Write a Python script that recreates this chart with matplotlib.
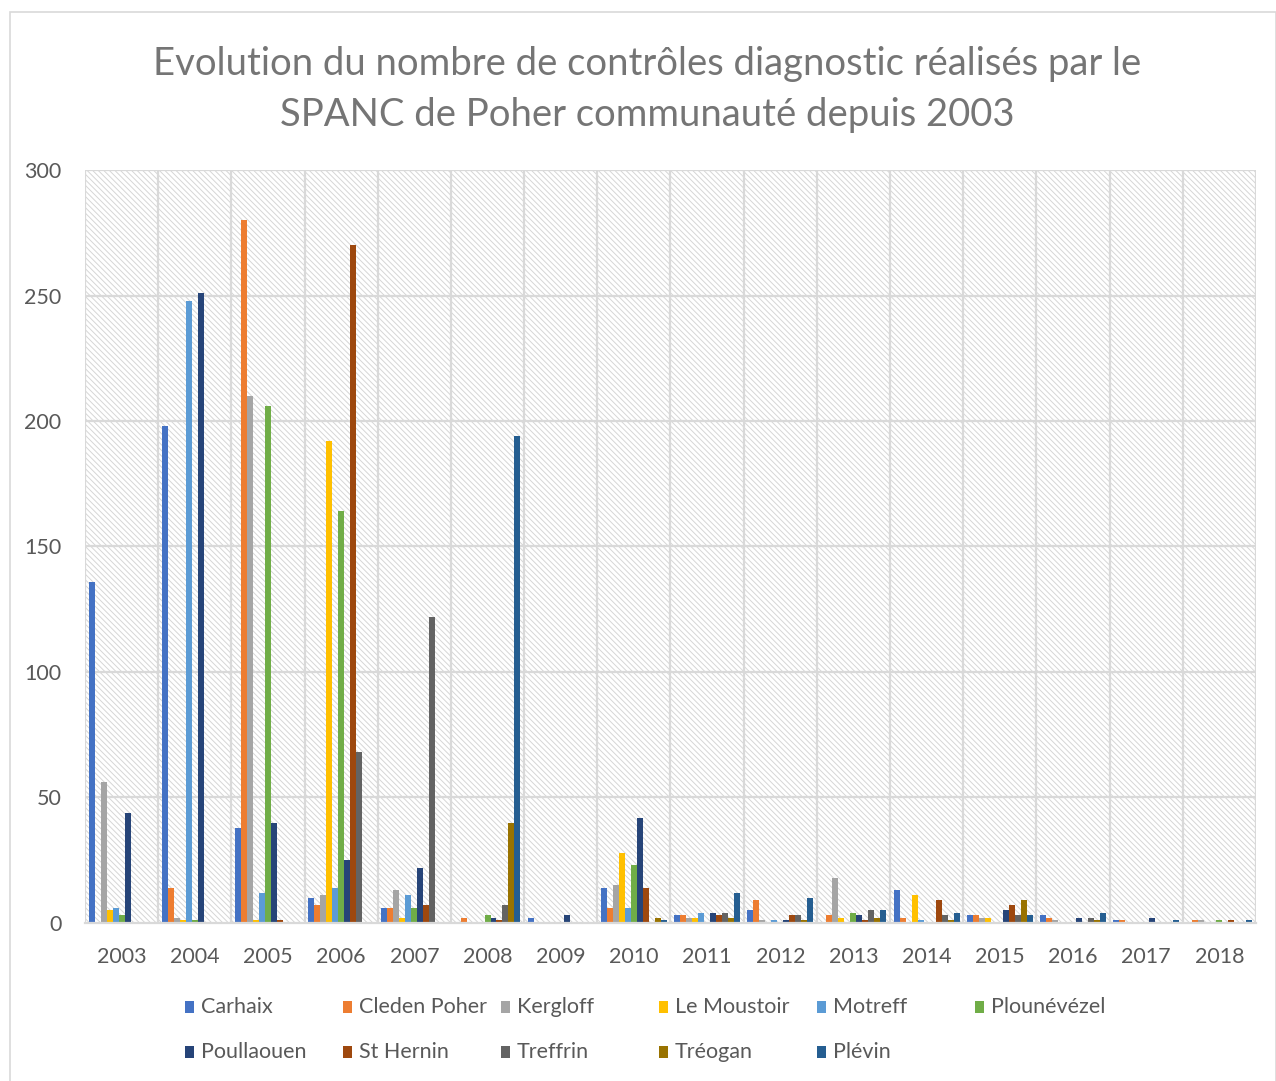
import numpy as np
import matplotlib
matplotlib.use("Agg")
import matplotlib.pyplot as plt
from matplotlib.patches import Rectangle

plt.rcParams['font.family'] = ['Lato', 'DejaVu Sans']
plt.rcParams['hatch.linewidth'] = 0.7

# === Data ===
years = ['2003', '2004', '2005', '2006', '2007', '2008', '2009', '2010',
         '2011', '2012', '2013', '2014', '2015', '2016', '2017', '2018']

carhaix     = [136, 198,  38,  10,   6,   0, 2, 14,  3,  5,  0, 13, 3, 3, 1, 0]
cleden      = [  0,  14, 280,   7,   6,   2, 0,  6,  3,  9,  3,  2, 3, 2, 1, 1]
kergloff    = [ 56,   2, 210,  11,  13,   0, 0, 15,  2,  1, 18,  0, 2, 1, 0, 1]
le_moustoir = [  5,   1,   1, 192,   2,   0, 0, 28,  2,  0,  2, 11, 2, 0, 0, 0]
motreff     = [  6, 248,  12,  14,  11,   0, 0,  6,  4,  1,  0,  1, 0, 0, 0, 0]
plounevezel = [  3,   1, 206, 164,   6,   3, 0, 23,  0,  0,  4,  0, 0, 0, 0, 1]
poullaouen  = [ 44, 251,  40,  25,  22,   2, 3, 42,  4,  1,  3,  0, 5, 2, 2, 0]
st_hernin   = [  0,   0,   1, 270,   7,   1, 0, 14,  3,  3,  1,  9, 7, 0, 0, 1]
treffrin    = [  0,   0,   0,  68, 122,   7, 0,  0,  4,  3,  5,  3, 3, 2, 0, 0]
treogan     = [  0,   0,   0,   0,   0,  40, 0,  2,  2,  1,  2,  1, 9, 1, 0, 0]
plevin      = [  0,   0,   0,   0,   0, 194, 0,  1, 12, 10,  5,  4, 3, 4, 1, 1]

names = ['Carhaix', 'Cleden Poher', 'Kergloff', 'Le Moustoir', 'Motreff', 'Plounévézel',
         'Poullaouen', 'St Hernin', 'Treffrin', 'Tréogan', 'Plévin']
series = [carhaix, cleden, kergloff, le_moustoir, motreff, plounevezel,
          poullaouen, st_hernin, treffrin, treogan, plevin]
colors = ['#4472C4', '#ED7D31', '#A5A5A5', '#FFC000', '#5B9BD5', '#70AD47',
          '#264478', '#9E480E', '#636363', '#997300', '#255E91']

# === Plot ===
fig = plt.figure(figsize=(12.76, 10.81), dpi=100)
ax = fig.add_axes([0.0666, 0.1462, 0.9177, 0.6965])

# hatched plot-area background
ax.add_patch(Rectangle((0, 0), 1, 1, transform=ax.transAxes, facecolor='white',
                       edgecolor='#d6d6d6', hatch='\\\\\\\\\\\\', linewidth=0, zorder=0))

x = np.arange(len(years))
n = len(series)
w = 0.9 / n
for i, (vals, c) in enumerate(zip(series, colors)):
    ax.bar(x - 0.45 + w * (i + 0.5), vals, width=w, color=c, linewidth=0, zorder=3)

ax.set_xlim(-0.5, len(years) - 0.5)
ax.set_ylim(0, 300)
ax.set_yticks(range(0, 301, 50))
ax.set_xticks(x)
ax.set_xticklabels(years)
ax.tick_params(length=0, labelsize=15.5, labelcolor='#595959')
ax.tick_params(axis='x', pad=17)
ax.tick_params(axis='y', pad=17)

for v in range(50, 301, 50):
    ax.axhline(v, color='#d9d9d9', linewidth=1.6, zorder=1)
for b in np.arange(-0.5, len(years), 1.0):
    ax.axvline(b, color='#d9d9d9', linewidth=1.6, zorder=1)

for s in ['top', 'right', 'left']:
    ax.spines[s].set_visible(False)
ax.spines['bottom'].set_color('#d9d9d9')
ax.spines['bottom'].set_linewidth(1.6)
ax.spines['bottom'].set_zorder(4)

fig.text(0.507, 0.917, "Evolution du nombre de contrôles diagnostic réalisés par le\nSPANC de Poher communauté depuis 2003",
         ha='center', va='center', fontsize=27.5, color='#757575', linespacing=1.5)

# legend, laid out in fixed columns like the original
W, H = 1276, 1081
col_x = [185, 343, 501, 659, 817, 975]
row_y = [1007, 1052]
for k, (name, c) in enumerate(zip(names, colors)):
    cx = col_x[k % 6]
    cy = row_y[k // 6]
    fig.patches.append(Rectangle((cx / W, 1 - (cy + 6) / H), 9 / W, 12 / H,
                                 transform=fig.transFigure, facecolor=c, edgecolor='none'))
    fig.text((cx + 16) / W, 1 - cy / H, name, ha='left', va='center',
             fontsize=15.5, color='#595959')

# chart border
fig.patches.append(Rectangle((10 / W, -0.01), (W - 10) / W, 1 - 12 / H + 0.01,
                             transform=fig.transFigure, facecolor='none',
                             edgecolor='#d9d9d9', linewidth=1.2))

fig.savefig('out.png', dpi=100)
